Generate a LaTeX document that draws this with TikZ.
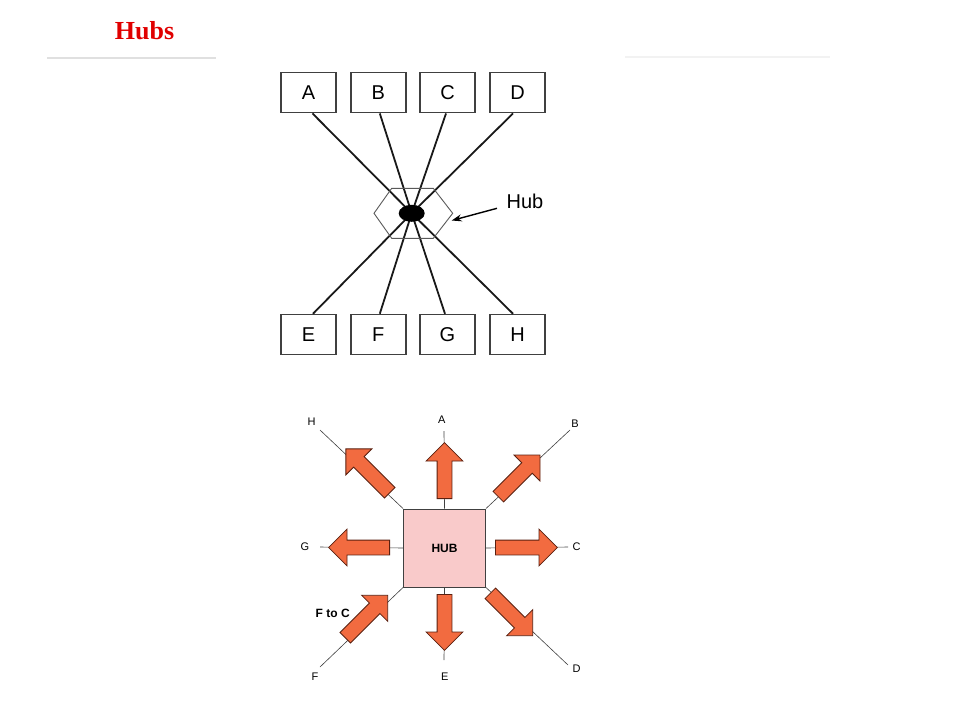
\documentclass[tikz,border=0pt]{standalone}
\usepackage{fontspec}
\setmainfont{Liberation Serif}
\setsansfont{Liberation Sans}
\usetikzlibrary{shapes.geometric,shapes.arrows,arrows.meta}
\definecolor{arrowfill}{HTML}{F26B40}
\definecolor{arrowline}{HTML}{5A2010}
\definecolor{hubpink}{HTML}{F9CACA}
\definecolor{titlered}{HTML}{E00000}
\begin{document}
\begin{tikzpicture}[x=1pt,y=-1pt,
  termbox/.style={draw=black!75, line width=1.5pt, minimum width=55pt, minimum height=40pt, inner sep=0pt, fill=white, font=\sffamily\fontsize{20}{20}\selectfont},
  wire/.style={draw=black!90, line width=1.8pt},
  thinwire/.style={draw=black!75, line width=0.6pt},
  smalllbl/.style={font=\sffamily\fontsize{11}{11}\selectfont, inner sep=1pt},
  blockarrow/.style={single arrow, draw=arrowline, fill=arrowfill, line width=0.8pt, inner sep=7pt, single arrow head extend=11pt, single arrow tip angle=90, anchor=tail}
]
\useasboundingbox (0,0) rectangle (960,720);
% title
\node[text=titlered, font=\bfseries\fontsize{26}{26}\selectfont] (title) at (144.5,31) {Hubs};
\draw[line width=2pt, color=black!12] (47,57.5) -- (216,57.5);
\draw[line width=1.5pt, color=black!5] (625,57) -- (830,57);

% ---------- top diagram ----------
\node[termbox] (A) at (308.5,92.7) {A};
\node[termbox] (B) at (378.3,92.7) {B};
\node[termbox] (C) at (447.5,92.7) {C};
\node[termbox] (D) at (517.5,92.7) {D};
\node[termbox] (E) at (308.5,334.5) {E};
\node[termbox] (F) at (378.3,334.5) {F};
\node[termbox] (G) at (447.5,334.5) {G};
\node[termbox] (H) at (517.5,334.5) {H};
\coordinate (hubc) at (411.7,213.3);
\draw[wire] ([xshift=4pt]A.south) -- (hubc);
\draw[wire] ([xshift=1.5pt]B.south) -- (hubc);
\draw[wire] ([xshift=-1.5pt]C.south) -- (hubc);
\draw[wire] ([xshift=-4.5pt]D.south) -- (hubc);
\draw[wire] ([xshift=4.5pt]E.north) -- (hubc);
\draw[wire] ([xshift=1.5pt]F.north) -- (hubc);
\draw[wire] ([xshift=-2.5pt]G.north) -- (hubc);
\draw[wire] ([xshift=-4.5pt]H.north) -- (hubc);
\draw[draw=black!65, line width=0.9pt] (374,213.3) -- (391.7,188.3) -- (433.3,188.3) -- (452.7,213.3) -- (433.3,238.3) -- (391.7,238.3) -- cycle;
\node[ellipse, fill=black, minimum width=26pt, minimum height=17pt, inner sep=0pt] (dot) at (hubc) {};
\node[font=\sffamily\fontsize{20}{20}\selectfont, inner sep=0pt] (hublabel) at (525,201.5) {Hub};
\coordinate (hubtail) at (497,208.3);
\coordinate (hubtip) at (451.7,220.5);
\draw[line width=1.4pt, -{Stealth[length=10pt,width=7pt]}] (hubtail) -- (hubtip);

% ---------- bottom diagram ----------
\node[smalllbl] (lH) at (311.7,421.7) {H};
\node[smalllbl] (lA) at (441.7,420) {A};
\node[smalllbl] (lB) at (575,424) {B};
\node[smalllbl] (lG) at (305,546.7) {G};
\node[smalllbl] (lC) at (576.7,546.7) {C};
\node[smalllbl] (lF) at (315,676.7) {F};
\node[smalllbl] (lE) at (444.7,676.7) {E};
\node[smalllbl] (lD) at (576.7,668.3) {D};
\node[font=\sffamily\bfseries\fontsize{12}{12}\selectfont] (ftoc) at (332.7,613.3) {F to C};

\node[draw=black!75, line width=0.9pt, fill=hubpink, minimum width=82pt, minimum height=78pt, inner sep=0pt, font=\sffamily\bfseries\fontsize{12}{12}\selectfont] (hub) at (444.5,548) {HUB};

\coordinate (eH) at (320,430);
\coordinate (eA) at (444,431);
\coordinate (eB) at (570,430);
\coordinate (eC) at (568,547);
\coordinate (eG) at (320,547);
\coordinate (eF) at (320,667);
\coordinate (eE) at (444,660);
\coordinate (eD) at (568,665);
\draw[thinwire] (eH) -- (hub.north west);
\draw[thinwire] (eA) -- (hub.north);
\draw[thinwire] (eB) -- (hub.north east);
\draw[thinwire] (eC) -- (hub.east);
\draw[thinwire] (eG) -- (hub.west);
\draw[thinwire] (eF) -- (hub.south west);
\draw[thinwire] (eE) -- (hub.south);
\draw[thinwire] (eD) -- (hub.south east);

\node[blockarrow, rotate=90, minimum height=56pt] (arrA) at (444.5,499) {};
\node[blockarrow, rotate=0, minimum height=62pt] (arrC) at (495,547.5) {};
\node[blockarrow, rotate=180, minimum height=61pt] (arrG) at (390,547.5) {};
\node[blockarrow, rotate=-90, minimum height=56pt] (arrE) at (444.5,594) {};
\node[blockarrow, rotate=135, minimum height=62pt] (arrH) at (390,493) {};
\node[blockarrow, rotate=45, minimum height=59pt] (arrB) at (498,497) {};
\node[blockarrow, rotate=-45, minimum height=60pt] (arrD) at (490,593) {};
\node[blockarrow, rotate=45, minimum height=60pt] (arrF) at (345,638) {};
\end{tikzpicture}
\end{document}
